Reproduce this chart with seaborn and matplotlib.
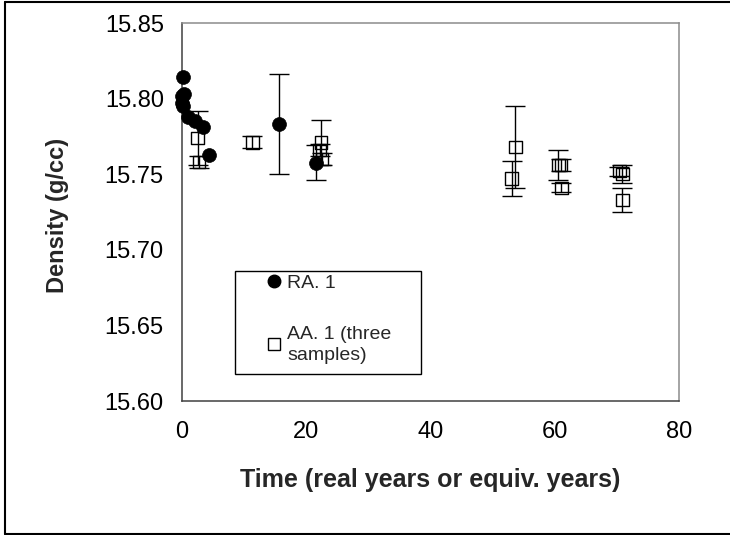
import matplotlib
matplotlib.use("Agg")
import matplotlib.pyplot as plt
import seaborn as sns
import pandas as pd
from matplotlib.lines import Line2D
from matplotlib.patches import Rectangle

# ---- data ----
ra_time = [0.1, 0.15, 0.2, 0.3, 0.4, 1.1, 2.2, 3.5, 4.5, 15.7, 21.6]
ra_density = [15.8016, 15.797, 15.814, 15.795, 15.803, 15.788, 15.785, 15.7815, 15.763, 15.783, 15.7575]
ra_err = [0, 0, 0, 0, 0, 0, 0, 0, 0, 0.033, 0.0115]

aa_time = [2.6, 2.8, 11.4, 22.2, 22.4, 22.6, 53.1, 53.7, 60.6, 61.0, 61.1, 70.4, 70.9, 70.9]
aa_density = [15.774, 15.758, 15.771, 15.766, 15.771, 15.760, 15.747, 15.768,
              15.756, 15.756, 15.741, 15.752, 15.750, 15.733]
aa_err = [0.018, 0.004, 0.004, 0.004, 0.015, 0.004, 0.0115, 0.027,
          0.010, 0.004, 0.003, 0.003, 0.006, 0.008]

x_ticks = [0, 20, 40, 60, 80]
y_ticks = [15.60, 15.65, 15.70, 15.75, 15.80, 15.85]
y_tick_labels = ["15.60", "15.65", "15.70", "15.75", "15.80", "15.85"]

legend_labels = ["RA. 1", "AA. 1 (three\nsamples)"]

sns.set_style("white")
plt.rcParams["font.family"] = ["Liberation Sans", "DejaVu Sans"]

ra = pd.DataFrame({"time": ra_time, "density": ra_density, "err": ra_err})
aa = pd.DataFrame({"time": aa_time, "density": aa_density, "err": aa_err})

W, H = 730, 535
fig = plt.figure(figsize=(W / 100, H / 100), dpi=100)
ax_l, ax_r, ax_t, ax_b = 181.5, 679, 23, 401
ax = fig.add_axes([ax_l / W, 1 - ax_b / H, (ax_r - ax_l) / W, (ax_b - ax_t) / H])

# error bars (only where an error bar is visible)
for df in (aa, ra):
    d = df[df["err"] > 0]
    ax.errorbar(d["time"], d["density"], yerr=d["err"], fmt="none",
                ecolor="black", elinewidth=1, capsize=7, capthick=1, zorder=2)

sns.scatterplot(data=aa, x="time", y="density", marker="s", s=82,
                facecolor="none", edgecolor="black", linewidth=1,
                ax=ax, zorder=3, clip_on=False)
sns.scatterplot(data=ra, x="time", y="density", marker="o", s=100,
                color="black", edgecolor="black", linewidth=0.5,
                ax=ax, zorder=4, clip_on=False)

ax.set_xlim(0, 80)
ax.set_ylim(15.60, 15.85)
ax.set_xticks(x_ticks)
ax.set_xticklabels([str(v) for v in x_ticks])
ax.set_yticks(y_ticks)
ax.set_yticklabels(y_tick_labels)
ax.tick_params(axis="both", direction="out", length=5.2, width=1, color="#404040",
               labelsize=17, labelcolor="black")
ax.tick_params(axis="x", pad=9.5)
ax.tick_params(axis="y", pad=7.5)

for side in ("left", "bottom"):
    ax.spines[side].set_color("#404040")
    ax.spines[side].set_linewidth(1.1)
for side in ("top", "right"):
    ax.spines[side].set_visible(True)
    ax.spines[side].set_color("#8c8c8c")
    ax.spines[side].set_linewidth(1.1)

ax.set_xlabel("Time (real years or equiv. years)", fontsize=18, fontweight="bold")
ax.set_ylabel("Density (g/cc)", fontsize=17, fontweight="bold")
ax.xaxis.set_label_coords(0.5, -(480 - ax_b) / (ax_b - ax_t))
ax.xaxis.label.set_va("center")
ax.yaxis.set_label_coords((57 - ax_l) / (ax_r - ax_l), (ax_b - 215) / (ax_b - ax_t))
ax.yaxis.label.set_va("center")

# legend (frame drawn separately)
handles = [
    Line2D([], [], marker="o", linestyle="none", color="black", markersize=9),
    Line2D([], [], marker="s", linestyle="none", markerfacecolor="white",
           markeredgecolor="black", markeredgewidth=1, markersize=9),
]
leg = ax.legend(handles, legend_labels, loc="upper left",
                bbox_to_anchor=((264.7 - ax_l) / (ax_r - ax_l), (ax_b - 274) / (ax_b - ax_t)),
                frameon=False, fontsize=14, handlelength=1.0, handletextpad=0.15,
                labelspacing=1.75, borderpad=0, borderaxespad=0)
for t in leg.get_texts():
    t.set_linespacing(1.3)
lg_x0, lg_x1, lg_y0, lg_y1 = 235.4, 420.8, 271, 374
ax.add_patch(Rectangle(((lg_x0 - ax_l) / (ax_r - ax_l), (ax_b - lg_y1) / (ax_b - ax_t)),
                       (lg_x1 - lg_x0) / (ax_r - ax_l), (lg_y1 - lg_y0) / (ax_b - ax_t),
                       transform=ax.transAxes, fill=False, edgecolor="black",
                       linewidth=1, zorder=5))

# outer chart border
fig.add_artist(Line2D([5 / W, 5 / W], [1 / H, 1 - 2 / H], color="black", lw=1.5))
fig.add_artist(Line2D([5 / W, 1], [1 - 2 / H, 1 - 2 / H], color="black", lw=1.5))
fig.add_artist(Line2D([5 / W, 1], [1 / H, 1 / H], color="black", lw=1.5))

fig.savefig("out.png", dpi=100)
